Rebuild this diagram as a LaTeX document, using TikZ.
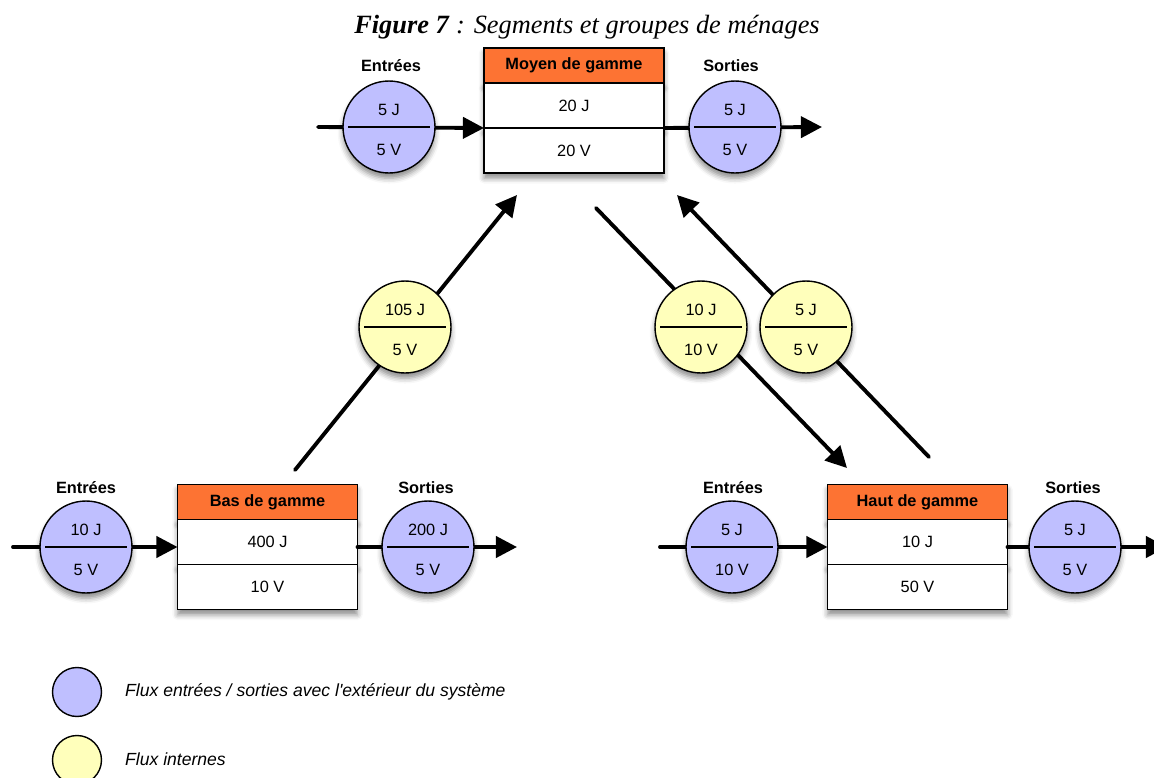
\documentclass[tikz,border=0pt]{standalone}
\usepackage{fontspec}
\setmainfont{Liberation Sans}
\newfontfamily\titlefont{Liberation Serif}
\usetikzlibrary{positioning,arrows.meta,shadows.blur}
\definecolor{hdrorange}{HTML}{FD7333}
\definecolor{extblue}{HTML}{BFBFFF}
\definecolor{intyellow}{HTML}{FFFFBB}
\newcommand\fluxtext[2]{\rule{0pt}{10pt}#1\\[11.7pt]#2}

\begin{document}
\begin{tikzpicture}[x=0.02cm, y=-0.02cm,
    every node/.style={font=\fontsize{9.3}{11}\selectfont},
    soft/.style={blur shadow={shadow xshift=0pt, shadow yshift=-3pt, shadow blur radius=3pt, shadow opacity=45}},
    hdr/.style={rectangle, draw, line width=0.8pt, outer sep=0pt, fill=hdrorange, minimum width=3.6cm, minimum height=0.7cm, font=\fontsize{9.3}{11}\selectfont\bfseries, soft},
    cell/.style={rectangle, draw, line width=0.8pt, outer sep=0pt, fill=white, minimum width=3.6cm, minimum height=0.9cm, soft},
    fluxext/.style={circle, draw, line width=0.8pt, fill=extblue, minimum size=1.84cm, inner sep=0pt, align=center, soft,
      path picture={\draw[line width=0.6pt] ([xshift=0.1cm]path picture bounding box.west) -- ([xshift=-0.1cm]path picture bounding box.east);}},
    fluxint/.style={fluxext, fill=intyellow},
    flow/.style={line width=2.2pt, line cap=round, -{Triangle[length=12pt,width=12pt]}},
    coltitle/.style={font=\fontsize{9.3}{11}\selectfont\bfseries},
    leg/.style={circle, draw, line width=0.8pt, minimum size=0.98cm},
    legtext/.style={anchor=west, font=\fontsize{10}{12}\selectfont\itshape},
  ]
  \useasboundingbox (0,0) rectangle (1154,778);

  \node[font=\titlefont\fontsize{15}{18}\selectfont] (title) at (587,27)
    {\textbf{\textit{Figure 7}} \textit{: Segments et groupes de ménages}};

  % the three groups
  \node[hdr] (moyH) at (574,65.5) {Moyen de gamme};
  \node[cell, below=0pt of moyH] (moyJ) {20 J};
  \node[cell, below=0pt of moyJ] (moyV) {20 V};

  \node[hdr] (basH) at (267.5,502) {Bas de gamme};
  \node[cell, below=0pt of basH] (basJ) {400 J};
  \node[cell, below=0pt of basJ] (basV) {10 V};

  \node[hdr] (hautH) at (917.5,502) {Haut de gamme};
  \node[cell, below=0pt of hautH] (hautJ) {10 J};
  \node[cell, below=0pt of hautJ] (hautV) {50 V};

  % free ends of the flows
  \coordinate (moyIn) at (318,127);
  \coordinate (moyOut) at (822,127);
  \coordinate (basIn) at (13,547);
  \coordinate (basOut) at (517,547);
  \coordinate (hautIn) at (660,547);
  \coordinate (hautOut) at (1167,547);
  \coordinate (basUp) at (295,470);
  \coordinate (moyLow) at (517,195);
  \coordinate (moyDown) at (596,208);
  \coordinate (hautTop) at (847,468);
  \coordinate (hautUp) at (929,457);
  \coordinate (moyRight) at (677,195);

  \draw[flow] (moyIn) -- (moyJ.south west);
  \draw[flow] (moyJ.south east) -- (moyOut);
  \draw[flow] (basIn) -- (basIn -| basJ.west);
  \draw[flow] (basOut -| basJ.east) -- (basOut);
  \draw[flow] (hautIn) -- (hautIn -| hautJ.west);
  \draw[flow] (hautOut -| hautJ.east) -- (hautOut);
  \draw[flow] (basUp) -- (moyLow);
  \draw[flow] (moyDown) -- (hautTop);
  \draw[flow] (hautUp) -- (moyRight);

  % entrees / sorties
  \node[fluxext] (moyE) at (389,127) {\fluxtext{5 J}{5 V}};
  \node[fluxext] (moyS) at (735,127) {\fluxtext{5 J}{5 V}};
  \node[fluxext] (basE) at (86,547) {\fluxtext{10 J}{5 V}};
  \node[fluxext] (basS) at (428,547) {\fluxtext{200 J}{5 V}};
  \node[fluxext] (hautE) at (732,547) {\fluxtext{5 J}{10 V}};
  \node[fluxext] (hautS) at (1075,547) {\fluxtext{5 J}{5 V}};

  \node[coltitle] (moyEt) at (391,66) {Entrées};
  \node[coltitle] (moySt) at (731,66) {Sorties};
  \node[coltitle] (basEt) at (86,488) {Entrées};
  \node[coltitle] (basSt) at (426,488) {Sorties};
  \node[coltitle] (hautEt) at (733,488) {Entrées};
  \node[coltitle] (hautSt) at (1073,488) {Sorties};

  % flux internes
  \node[fluxint] (basMoy) at (405,327) {\fluxtext{105 J}{5 V}};
  \node[fluxint] (moyHaut) at (701,327) {\fluxtext{10 J}{10 V}};
  \node[fluxint] (hautMoy) at (806,327) {\fluxtext{5 J}{5 V}};

  % legend
  \node[leg, fill=extblue] (legE) at (77,692) {};
  \node[legtext] (legEt) at (119,692)
    {Flux entrées / sorties avec l\textquotesingle extérieur du système};
  \node[leg, fill=intyellow] (legI) at (77,760) {};
  \node[legtext] (legIt) at (119,759) {Flux internes};
\end{tikzpicture}
\end{document}
